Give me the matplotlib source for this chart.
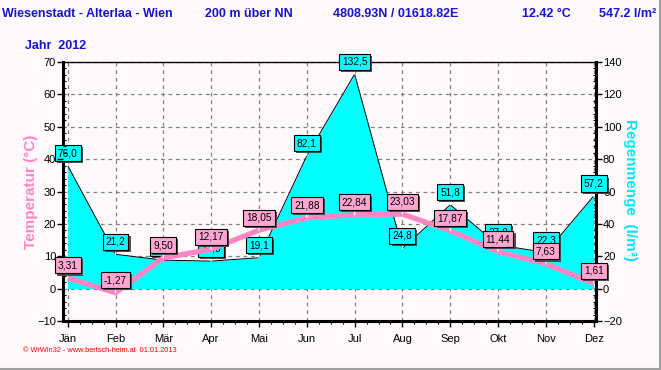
import matplotlib
matplotlib.use("Agg")
import matplotlib.pyplot as plt
import matplotlib.patheffects as pe
from matplotlib.ticker import MultipleLocator

plt.rcParams['font.family'] = ['Liberation Sans', 'DejaVu Sans']

months = ['Jän', 'Feb', 'Mär', 'Apr', 'Mai', 'Jun', 'Jul', 'Aug', 'Sep', 'Okt', 'Nov', 'Dez']
temperature = [3.31, -1.27, 9.50, 12.17, 18.05, 21.88, 22.84, 23.03, 17.87, 11.44, 7.63, 1.61]
rain = [76.0, 21.2, 17.6, 17.0, 19.1, 82.1, 132.5, 24.8, 51.8, 27.0, 22.3, 57.2]

bg = '#FFF9FC'
pink = '#FF85C4'
cyan = '#00FFFF'
blue = '#1414D2'

fig = plt.figure(figsize=(6.61, 3.70), dpi=100, facecolor=bg)
x = list(range(len(months)))

# rain axis (drawn underneath)
ax_r = fig.add_axes([63 / 661, 49 / 370, 533 / 661, 259 / 370])
ax_r.set_facecolor(bg)
ax_r.fill_between(x, 0, rain, color=cyan, lw=0, zorder=2)
ax_r.plot(x, rain, color='black', lw=0.7, zorder=3)
ax_r.set_ylim(-20, 140)
ax_r.set_xlim(-0.098, 11.048)
ax_r.grid(True, color='#808080', ls=(0, (3, 3)), lw=0.9, zorder=1)
ax_r.set_axisbelow(True)
ax_r.set_xticks(x)
ax_r.set_xticklabels(months, fontsize=8)
ax_r.xaxis.set_minor_locator(MultipleLocator(0.25))
ax_r.tick_params(axis='x', which='major', length=4, width=1, pad=5)
ax_r.tick_params(axis='x', which='minor', length=2.5, width=0.8)
for s in ['left', 'right', 'bottom']:
    ax_r.spines[s].set_linewidth(2.2)
ax_r.spines['top'].set_linewidth(1.0)

# temperature axis (on top)
ax_t = ax_r.twinx()
ax_t.plot(x, temperature, color=pink, lw=3.8, solid_capstyle='butt', zorder=3)
ax_t.set_ylim(-10, 70)
ax_t.set_xlim(-0.098, 11.048)
for s in ax_t.spines.values():
    s.set_visible(False)

# twinx moves the original ticks to the left, so swap them back
ax_r.yaxis.tick_right()
ax_r.yaxis.set_major_locator(MultipleLocator(20))
ax_r.yaxis.set_minor_locator(MultipleLocator(4))
ax_r.tick_params(axis='y', which='major', length=4, width=1, labelsize=8, pad=1)
ax_r.tick_params(axis='y', which='minor', length=2.5, width=0.8, direction='in')
ax_t.yaxis.tick_left()
ax_t.yaxis.set_major_locator(MultipleLocator(10))
ax_t.yaxis.set_minor_locator(MultipleLocator(2))
ax_t.tick_params(axis='y', which='major', length=4, width=1, labelsize=8, pad=1)
ax_t.tick_params(axis='y', which='minor', length=2.5, width=0.8, direction='in')


def label(ax, xv, yv, txt, fc):
    t = ax.annotate(txt, (xv, yv), xytext=(0, 9), textcoords='offset points',
                    ha='center', va='center', fontsize=7.3, zorder=6,
                    bbox=dict(boxstyle='square,pad=0.3', fc=fc, ec='black', lw=0.8),
                    arrowprops=dict(arrowstyle='-', color='white', lw=1, shrinkA=0, shrinkB=0))
    t.get_bbox_patch().set_path_effects([pe.SimplePatchShadow(offset=(1.5, -1.5), shadow_rgbFace='#404040', alpha=0.9), pe.Normal()])


for i, v in enumerate(rain):
    label(ax_r, i, v, f"{v:.1f}".replace('.', ','), cyan)
for i, v in enumerate(temperature):
    label(ax_t, i, v, f"{v:.2f}".replace('.', ','), '#FFA6D3')

# axis titles
fig.text(31 / 661, 1 - 192 / 370, 'Temperatur (°C)', rotation=90, color=pink,
         fontsize=11, fontweight='bold', ha='center', va='center')
fig.text(630 / 661, 1 - 190 / 370, 'Regenmenge  (l/m³)', rotation=270, color='#00E8F8',
         fontsize=11, fontweight='bold', ha='center', va='center')

# header
hy = 1 - 14 / 370
fig.text(2 / 661, hy, 'Wiesenstadt - Alterlaa - Wien', color=blue, fontsize=9, fontweight='bold', va='center')
fig.text(205 / 661, hy, '200 m über NN', color=blue, fontsize=9, fontweight='bold', va='center')
fig.text(333 / 661, hy, '4808.93N / 01618.82E', color=blue, fontsize=9, fontweight='bold', va='center')
fig.text(522 / 661, hy, '12.42 °C', color=blue, fontsize=9, fontweight='bold', va='center')
fig.text(599 / 661, hy, '547.2 l/m²', color=blue, fontsize=9, fontweight='bold', va='center')
fig.text(25 / 661, 1 - 46 / 370, 'Jahr  2012', color=blue, fontsize=9, fontweight='bold', va='center')

# footer
fig.text(23 / 661, 1 - 351 / 370, '© WrWin32 - www.bertsch-heim.at  01.01.2013', color='#FF0000',
         fontsize=5.3, va='center')

# window border
fig.add_artist(plt.Line2D([0, 1], [1 / 370, 1 / 370], color='#A0A0A0', lw=1.5, transform=fig.transFigure))
fig.add_artist(plt.Line2D([659.5 / 661, 659.5 / 661], [0, 1], color='#A0A0A0', lw=1.5, transform=fig.transFigure))

fig.savefig('out.png', dpi=100, facecolor=bg)
